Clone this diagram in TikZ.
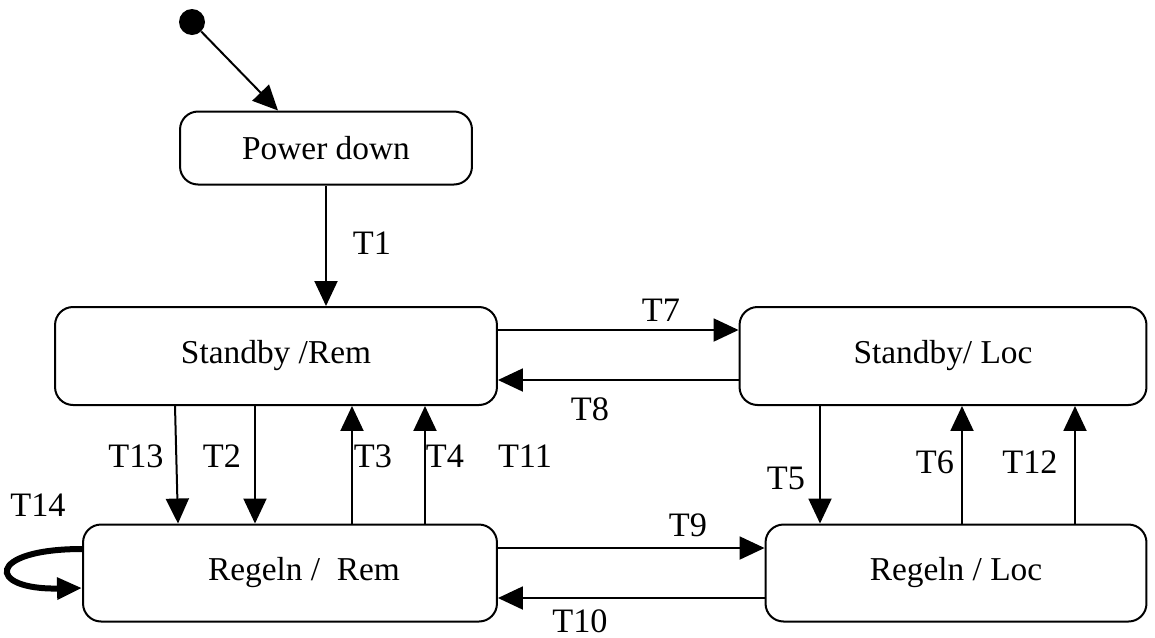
\documentclass[tikz,border=0pt]{standalone}
\usepackage{fontspec}
\setmainfont{Liberation Serif}
\usetikzlibrary{arrows.meta}

\begin{document}
\begin{tikzpicture}[%
x=0.02cm,y=-0.02cm,
state/.style={draw,line width=0.04cm,rounded corners=0.36cm,inner sep=0pt,font=\fontsize{19}{23}\selectfont},
arrow/.style={line width=0.04cm,draw=black,-{Triangle[length=0.5cm,width=0.46cm]}},
tlabel/.style={inner sep=0pt,font=\fontsize{19.5}{23}\selectfont}
]
\useasboundingbox (0,0) rectangle (1155,637);
\node[circle,fill=black,minimum size=0.52cm,inner sep=0pt] (init) at (192,22) {};
\node[style=state,minimum width=5.84cm,minimum height=1.46cm] (power down) at (326,148) {Power down};
\node[style=state,minimum width=8.84cm,minimum height=1.96cm] (standby rem) at (276,356) {Standby /Rem};
\node[style=state,minimum width=8.14cm,minimum height=1.96cm] (standby loc) at (943,356) {Standby/ Loc};
\node[style=state,minimum width=8.28cm,minimum height=1.94cm] (regeln rem) at (290,573) {\hspace*{0.56cm}Regeln /\ \ Rem};
\node[style=state,minimum width=7.62cm,minimum height=1.94cm] (regeln loc) at (956,573) {Regeln / Loc};
\path[style=arrow] (init) -- (power down.north -| 278,0);
\path[style=arrow] (power down) -- (power down |- standby rem.north);
\path[style=arrow] (standby rem.east |- 0,330) -- (standby loc.west |- 0,330);
\path[style=arrow] (standby loc.west |- 0,380) -- (standby rem.east |- 0,380);
\path[style=arrow] (standby rem.south -| 175,0) -- (regeln rem.north -| 178,0);
\path[style=arrow] (standby rem.south -| 255,0) -- (regeln rem.north -| 255,0);
\path[style=arrow] (regeln rem.north -| 352,0) -- (standby rem.south -| 352,0);
\path[style=arrow] (regeln rem.north -| 425,0) -- (standby rem.south -| 425,0);
\path[style=arrow] (standby loc.south -| 820,0) -- (regeln loc.north -| 820,0);
\path[style=arrow] (regeln loc.north -| 962,0) -- (standby loc.south -| 962,0);
\path[style=arrow] (regeln loc.north -| 1075,0) -- (standby loc.south -| 1075,0);
\path[style=arrow] (regeln rem.east |- 0,548) -- (regeln loc.west |- 0,548);
\path[style=arrow] (regeln loc.west |- 0,598) -- (regeln rem.east |- 0,598);
\draw[line width=0.12cm,-{Triangle[length=0.5cm,width=0.42cm]}]
  (regeln rem.west |- 0,549) .. controls (-14,549) and (-14,590) .. (regeln rem.west |- 0,588);
\node[style=tlabel] (t1) at (372,243) {T1};
\node[style=tlabel] (t7) at (661,310) {T7};
\node[style=tlabel] (t8) at (590,409) {T8};
\node[style=tlabel] (t13) at (136,456) {T13};
\node[style=tlabel] (t2) at (222,456) {T2};
\node[style=tlabel] (t3) at (373,456) {T3};
\node[style=tlabel] (t4) at (445,456) {T4};
\node[style=tlabel] (t11) at (525,456) {T11};
\node[style=tlabel] (t5) at (786,478) {T5};
\node[style=tlabel] (t6) at (935,462) {T6};
\node[style=tlabel] (t12) at (1030,462) {T12};
\node[style=tlabel] (t9) at (688,525) {T9};
\node[style=tlabel] (t10) at (580,621) {T10};
\node[style=tlabel] (t14) at (38,505) {T14};
\end{tikzpicture}
\end{document}
